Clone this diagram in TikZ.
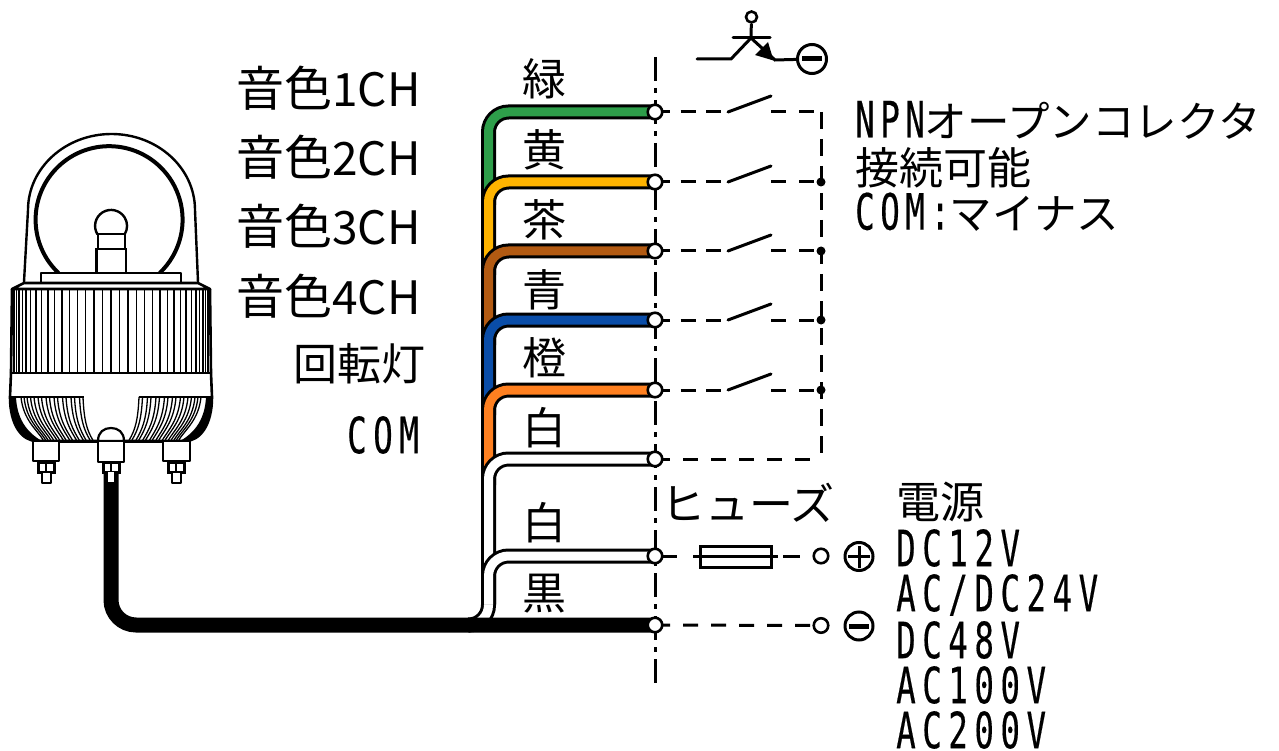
\documentclass[tikz,border=0pt]{standalone}
\usepackage{fontspec}
\setmainfont{Noto Sans CJK JP}
\newfontfamily\narfont[FakeStretch=0.65,LetterSpace=13,FakeBold=0.3]{DejaVu Sans Mono}
\newfontfamily\nartight[FakeStretch=0.65,LetterSpace=11,FakeBold=0.3]{DejaVu Sans Mono}
\definecolor{wgreen}{HTML}{2E9E4A}
\definecolor{wyellow}{HTML}{FFB400}
\definecolor{wbrown}{HTML}{B25A12}
\definecolor{wblue}{HTML}{0A4DA8}
\definecolor{worange}{HTML}{FF8020}
\newcommand{\bigsz}{\fontsize{44}{48}\selectfont}
\newcommand{\midsz}{\fontsize{42.5}{48}\selectfont}
\newcommand{\onsz}{\fontsize{48}{48}\selectfont}
\newcommand{\narsz}{\fontsize{50}{50}\selectfont}
\newcommand{\tone}[1]{{\onsz 音色}{\fontsize{46}{48}\selectfont #1CH}}
\tikzset{
  wirepath/.style={line width=3pt,double=#1,double distance=9pt,rounded corners=20pt},
  term/.style={circle,draw=black,fill=white,line width=2.6pt,minimum size=14.5pt,inner sep=0pt},
  jdot/.style={circle,fill=black,minimum size=9pt,inner sep=0pt},
  sym/.style={circle,draw=black,fill=white,line width=3pt,minimum size=29pt,inner sep=0pt},
  dashline/.style={line width=3pt,dash pattern=on 15pt off 10.5pt},
  dashret/.style={line width=3pt,dash pattern=on 15pt off 13pt},
  centerline/.style={line width=3pt,dash pattern=on 24pt off 7pt on 5pt off 7pt},
  contact/.style={line width=3pt,line cap=round},
  lamp/.style={line width=2.2pt,line join=round},
  rib/.style={line width=1.3pt},
  jp/.style={font=\bigsz,inner sep=0pt},
  jpr/.style={font=\bigsz,inner sep=0pt,anchor=east},
  jpl/.style={font=\bigsz,inner sep=0pt,anchor=west},
  latin/.style={font=\narsz\narfont,inner sep=0pt,anchor=west},
}
\begin{document}
\begin{tikzpicture}[x=1pt,y=-1pt]
\useasboundingbox (0,0) rectangle (1279,751);
\fill[white] (0,0) rectangle (1279,751);
% terminal positions
\coordinate (t1) at (655,112);
\coordinate (t2) at (655,182);
\coordinate (t3) at (655,251);
\coordinate (t4) at (655,320);
\coordinate (t5) at (655,390);
\coordinate (t6) at (655,459);
\coordinate (t7) at (655,556);
\coordinate (t8) at (655,625);
\coordinate (cable) at (111,470);
\coordinate (clTop) at (655,57);
\coordinate (clBot) at (655,687);
% lamp: dome
\draw[line width=2.4pt] (24,282) -- (28,210) arc[start angle=180,end angle=360,x radius=83.5,y radius=76] -- (198,282);
\draw[line width=4pt] (58.5,273) arc[start angle=133.5,end angle=406.5,radius=73.5];
\draw[lamp,fill=white] (41,283) -- (41,272.7) -- (181,272.7) -- (181,283);
\draw[line width=2.4pt] (96.5,272) -- (96.5,249) -- (126,249) -- (126,272);
\draw[line width=2.4pt] (98,249) -- (98,234) -- (125,234) -- (125,249);
\draw[line width=2.4pt] (97.5,234.4) arc[start angle=148,end angle=392,radius=16];
% lamp: body ribs
\foreach \a in {-85,-80,...,85}{
  \pgfmathsetmacro{\xr}{111+98*sin(\a)}
  \draw[rib] (\xr,289) -- (\xr,373);
}
\draw[line width=2.6pt,line join=round] (24,283) -- (198,283) -- (210,289) -- (12,289) -- cycle;
\draw[line width=2.6pt] (12,289) -- (11,373);
\draw[line width=2.6pt] (210,289) -- (211,373);
\draw[line width=2pt] (11,373) -- (211,373);
\draw[line width=2.6pt] (11,373) -- (10,397) .. controls (10,425) and (22,441) .. (37,441) -- (185,441) .. controls (200,441) and (212,425) .. (212,397) -- (211,373);
% lamp: lower ribs
\fill (10,397) .. controls (10,425) and (22,441) .. (37,441) -- (42,441) .. controls (26,432) and (17,418) .. (16,397) -- cycle;
\fill (212,397) .. controls (212,425) and (200,441) .. (185,441) -- (180,441) .. controls (196,432) and (205,418) .. (206,397) -- cycle;
\foreach \s in {83,79.5,74.5,71,66,62.5,57.5,54,49.5,46,41.5,38,34,30.5,27,24,21}{
  \pgfmathsetmacro{\ex}{36+(\s-12)*0.8}
  \pgfmathsetmacro{\mx}{\s+(\ex-\s)*0.1}
  \pgfmathsetmacro{\rs}{222-\s}
  \pgfmathsetmacro{\rex}{222-\ex}
  \pgfmathsetmacro{\rmx}{222-\mx}
  \pgfmathsetmacro{\exa}{\ex-6}
  \pgfmathsetmacro{\rexa}{\rex+6}
  \draw[rib] (\s,397) .. controls (\mx,420) and (\exa,430) .. (\ex,440);
  \draw[rib] (\rs,397) .. controls (\rmx,420) and (\rexa,430) .. (\rex,440);
}
\draw[line width=1.6pt] (11,397) -- (83.5,397);
\draw[line width=1.6pt] (138.5,397) -- (211,397);
\draw[line width=3.4pt] (37,441.5) -- (185,441.5);
% lamp: left bolt
\draw[lamp,fill=white] (33,441) rectangle (59,461);
\draw[line width=3pt,fill=white] (38,462) rectangle (54,472);
\draw[lamp] (46,462) -- (46,472);
\draw[lamp,fill=white] (42,472) rectangle (51,483);
% lamp: right bolt
\draw[lamp,fill=white] (163,441) rectangle (190,461);
\draw[line width=3pt,fill=white] (168,462) rectangle (184,472);
\draw[lamp] (176,462) -- (176,472);
\draw[lamp,fill=white] (172,472) rectangle (181,483);
% wires, top to bottom
\draw[wirepath=wgreen] (t1) -| (488.5,205);
\draw[wirepath=wyellow] (t2) -| (488.5,275);
\draw[wirepath=wbrown] (t3) -| (488.5,345);
\draw[wirepath=wblue] (t4) -| (488.5,415);
\draw[wirepath=worange] (t5) -| (488.5,485);
\draw[wirepath=white] (t6) -| (488.5,625) -- (470,625);
\draw[wirepath=white] (t7) -| (488.5,604);
% black cable
\draw[line width=15pt,rounded corners=25pt] (cable) |- (t8);
% lamp: centre connector
\draw[lamp,fill=white] (98,441) .. controls (98,432) and (104,428) .. (111,428) .. controls (118,428) and (124,432) .. (124,441) -- cycle;
\draw[lamp,fill=white] (98,441) rectangle (124,462);
\draw[line width=3pt,fill=white] (103,462) rectangle (119,472);
\draw[lamp] (111,462) -- (111,472);
\fill[white] (108,472) rectangle (114,482);
% centre line
\draw[centerline] (clTop) -- (clBot);
% return line and switches
\coordinate (ret) at (821,112);
\coordinate (retb) at (821,459);
\draw[dashline] (t1) -- (728,112);
\draw[dashline] (t2) -- (728,182);
\draw[dashline] (t3) -- (728,251);
\draw[dashline] (t4) -- (728,320);
\draw[dashline] (t5) -- (728,390);
\draw[contact] (728,112) -- (771,96);
\draw[contact] (728,182) -- (771,166);
\draw[contact] (728,251) -- (771,235);
\draw[contact] (728,320) -- (771,304);
\draw[contact] (728,390) -- (771,374);
\draw[dashret] (771,112) -- (ret);
\draw[dashret] (771,182) -- (821,182);
\draw[dashret] (771,251) -- (821,251);
\draw[dashret] (771,320) -- (821,320);
\draw[dashret] (771,390) -- (821,390);
\draw[line width=3pt,dash pattern=on 17pt off 10pt] (ret) -- (retb);
\draw[dashret] (t6) -- (retb);
\foreach \y in {182,251,320,390}{\node[jdot] at (821,\y) {};}
% fuse branch
\node[term] (tp) at (821,556) {};
\draw[line width=3pt] (t7) -- (677,556);
\draw[line width=3pt] (693,556) -- (778,556);
\draw[line width=3pt] (783,556) -- (800,556);
\draw[line width=3pt,fill=white] (700,546) rectangle (771,567);
\draw[line width=2.4pt] (700,556.5) -- (771,556.5);
\draw[dashret] (t8) -- (814,625.5);
\node[term] (tm) at (821,625.5) {};
% terminals
\foreach \n in {1,...,8}{\node[term] (T\n) at (t\n) {};}
% polarity symbols
\node[sym,minimum size=28pt] (plus) at (859,556.5) {};
\draw[line width=3pt] (848,556.5) -- (870,556.5);
\draw[line width=3pt] (859,545.5) -- (859,567.5);
\node[sym,minimum size=28pt] (minus) at (859,626) {};
\draw[line width=5pt] (849,626) -- (869,626);
% transistor
\node[term,minimum size=11pt] (base) at (751.5,17) {};
\coordinate (tc) at (751,38);
\node[sym] (tn) at (812,59) {};
\draw[line width=5pt] (802,59) -- (822,59);
\draw[contact] (697,59) -- (731,59) -- (tc);
\draw[contact] (733,38) -- (770,38);
\draw[line width=3pt] (base) -- (tc);
\draw[line width=3pt] (tc) -- (775,60) -- (tn);
\fill (773.5,60.5) -- (755,55) -- (768,42) -- cycle;
% labels
\node[jpr] (l1) at (421,88) {\tone{1}};
\node[jpr] (l2) at (421,157) {\tone{2}};
\node[jpr] (l3) at (421,226) {\tone{3}};
\node[jpr] (l4) at (421,296) {\tone{4}};
\node[jpr] (l5) at (426,364) {回転灯};
\node[latin] (l6) at (347,435) {COM};
\node[jp] (c1) at (544,79) {緑};
\node[jp] (c2) at (544,150) {黄};
\node[jp] (c3) at (544,220) {茶};
\node[jp] (c4) at (544,290) {青};
\node[jp] (c5) at (544,358) {橙};
\node[jp] (c6) at (544,428) {白};
\node[jp] (c7) at (544,523) {白};
\node[jp] (c8) at (544,594) {黒};
\node[jpl] (n1) at (855,120) {{\narsz\nartight NPN}{\midsz オープンコレクタ}};
\node[jpl] (n2) at (855,168) {接続可能};
\node[jpl] (n3) at (855,212) {{\narsz\nartight COM:}{\midsz マイナス}};
\node[jp] (fu) at (748,503) {ヒューズ};
\node[jpl] (p0) at (896,502) {電源};
\node[latin] (p1) at (896,548) {DC12V};
\node[latin] (p2) at (896,595) {AC/DC24V};
\node[latin] (p3) at (896,640) {DC48V};
\node[latin] (p4) at (896,685) {AC100V};
\node[latin] (p5) at (896,730) {AC200V};
\end{tikzpicture}
\end{document}
